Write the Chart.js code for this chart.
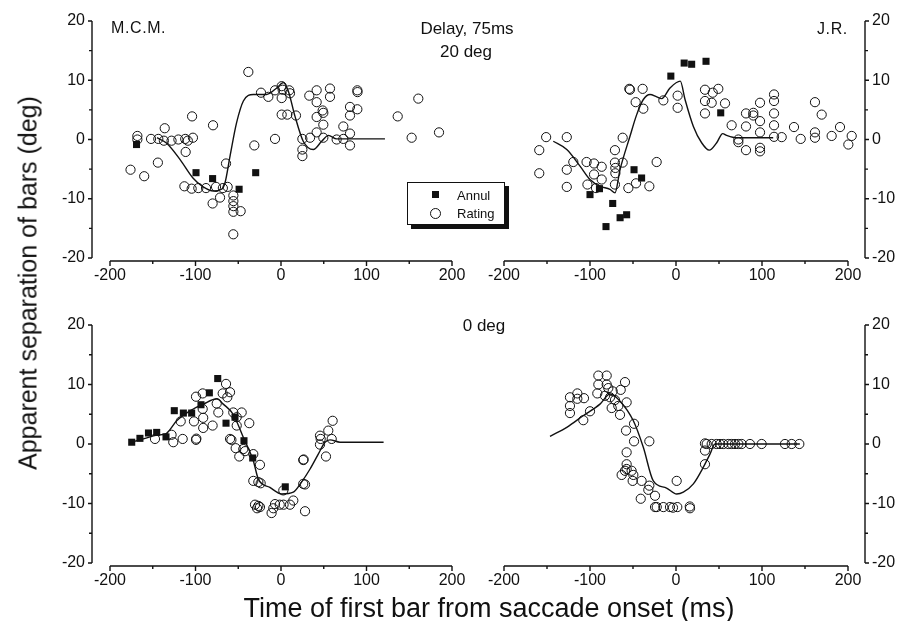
<!DOCTYPE html>
<html>
<head>
<meta charset="utf-8">
<script src="https://cdn.jsdelivr.net/npm/chart.js@4.4.1/dist/chart.umd.min.js"></script>
<style>
  body { margin: 0; background: #fff; }
  #wrap { position: relative; width: 899px; height: 621px; overflow: hidden; background: #fff;
          font-family: "Liberation Sans", Arial, Helvetica, sans-serif; color: #111; }
  #wrap canvas { position: absolute; left: 0; top: 0; }
  .txt { position: absolute; white-space: nowrap; line-height: 1; }
  .legend { position: absolute; left: 407px; top: 182px; width: 96px; height: 41px;
            border: 1px solid #111; background: #fff; box-shadow: 4px 4px 0 #111; }
  .legend .sq { position: absolute; left: 24px; top: 8px; width: 7px; height: 7px; background: #111; }
  .legend .ci { position: absolute; left: 22px; top: 25px; width: 9px; height: 9px; border: 1px solid #111; border-radius: 50%; }
  .legend .lb { position: absolute; left: 49px; font-size: 13px; }
</style>
</head>
<body>
<div id="wrap">
  <canvas id="tl" width="899" height="621"></canvas>
  <canvas id="tr" width="899" height="621"></canvas>
  <canvas id="bl" width="899" height="621"></canvas>
  <canvas id="br" width="899" height="621"></canvas>

  <div class="txt" style="left:28px;top:283px;font-size:25px;transform:translate(-50%,-50%) rotate(-90deg);">Apparent separation of bars (deg)</div>
  <div class="txt" style="left:489px;top:595px;font-size:27px;transform:translateX(-50%);">Time of first bar from saccade onset (ms)</div>
  <div class="txt" style="left:111px;top:20px;font-size:16px;letter-spacing:0.6px;">M.C.M.</div>
  <div class="txt" style="left:467px;top:20px;font-size:17px;transform:translateX(-50%);">Delay, 75ms</div>
  <div class="txt" style="left:466px;top:43px;font-size:17px;transform:translateX(-50%);">20 deg</div>
  <div class="txt" style="left:817px;top:21px;font-size:16px;letter-spacing:0.6px;">J.R.</div>
  <div class="txt" style="left:484px;top:317px;font-size:17px;transform:translateX(-50%);">0 deg</div>

  <div class="legend">
    <div class="sq"></div><div class="lb" style="top:5px;">Annul</div>
    <div class="ci"></div><div class="lb" style="top:23px;">Rating</div>
  </div>
</div>

<script>
// axis ticks
const xTicks = [-200, -150, -100, -50, 0, 50, 100, 150, 200];
const xLabels = [-200, -100, 0, 100, 200];
const yTicks = [-20, -15, -10, -5, 0, 5, 10, 15, 20];
const yLabels = [-20, -10, 0, 10, 20];

// M.C.M., delay 75ms, 20 deg  [ms, deg]
const mcm20Rating = [
  [-168,0.6],[-168,0],[-176,-5.1],[-160,-6.2],[-144,-3.9],[-152,0.1],[-143.5,0.1],[-136,1.9],[-137,-0.2],
  [-128,-0.2],[-120,0],[-112,0.1],[-109,-0.2],[-103,0.3],[-104,3.9],[-111.5,-2.1],[-79.5,2.4],
  [-113,-7.9],[-104.5,-8.3],[-96.7,-8.2],[-87.7,-8.2],[-76,-8.0],[-68,-8.2],[-62.4,-8.0],[-80,-10.8],
  [-71.3,-9.8],[-64.3,-4.05],[-55.7,-9.45],[-55.7,-10.4],[-55.7,-11.25],[-55.7,-12.2],[-47.2,-12.1],
  [-55.8,-16],[-31.2,-1],[-7,0.1],[-38.2,11.4],[-23.4,7.9],[-14.8,7.2],[-7,8.3],[0.8,9.0],[1.9,8.4],
  [0.8,7.0],[0.8,4.2],[7.4,4.2],[9.7,8.3],[10.5,7.8],[17.5,4.05],[25,0.1],[25,-1.7],[25,-2.8],[34,0.3],
  [33.1,7.4],[41.7,8.3],[41.7,6.3],[41.7,3.8],[41.7,1.2],[48.7,4.9],[49.5,4.5],[49.5,2.5],[49.5,0.3],
  [57.3,8.6],[57.3,7.2],[65.1,0],[72.9,2.2],[72.9,0.1],[80.7,5.5],[80.7,4.05],[80.7,1.0],[80.7,-1.0],
  [89.3,8.3],[89.5,8.0],[89.3,5.1],[136.5,3.9],[152.8,0.3],[160.6,6.9],[184.8,1.2]
];
const mcm20Annul = [[-169,-0.85],[-99.4,-5.6],[-80,-6.6],[-49,-8.4],[-29.6,-5.6]];
const mcm20Curve = [
  [-145,0.3],[-134,-0.6],[-118,-3.4],[-103,-6.5],[-91,-8.0],[-79,-8.7],[-69.5,-8.4],[-65.5,-7.3],
  [-59.6,-2.8],[-52,2.8],[-44,6.5],[-32.4,7.6],[-17,7.6],[-5,8.7],[2.7,9.6],[8.5,8.2],[16.4,3.9],
  [26,-0.3],[37.8,-1.7],[47.6,-0.3],[55.4,0.7],[65,0.1],[121.6,0.1]
];

// J.R., delay 75ms, 20 deg
const jr20Rating = [
  [-151,0.4],[-127,0.4],[-159,-1.8],[-159,-5.7],[-127,-5.1],[-127,-8.0],[-119.4,-3.8],[-104,-3.8],
  [-95.3,-4.05],[-86.4,-4.6],[-95.3,-5.9],[-103,-7.6],[-86.4,-6.75],[-93,-8.2],[-71,-1.8],[-71,-3.9],
  [-70.5,-4.8],[-70.5,-5.7],[-62,-3.9],[-62,0.3],[-71,-7.6],[-55.4,-8.2],[-46.5,-7.4],[-31,-7.9],
  [-22.5,-3.8],[-54.3,8.55],[-53.5,8.4],[-38.8,8.55],[-46.9,6.3],[-38,5.2],[-14.7,6.6],[1.9,7.4],
  [1.9,5.35],[33.7,8.4],[42.7,7.9],[49.2,8.55],[33.7,6.5],[41.5,6.2],[33.7,4.4],[57,6.1],[64.7,2.4],
  [72.5,0],[72.5,-0.45],[81.4,4.4],[81.4,2.2],[81.4,-1.8],[89.9,4.5],[89.9,4.05],[97.7,6.2],[97.7,3.1],
  [97.7,1.2],[97.7,-1.4],[97.7,-2.0],[114,7.6],[114,6.5],[114,4.4],[114,2.4],[114,0.45],[122.9,0.4],
  [137.2,2.1],[145,0.1],[161.6,6.3],[169.4,4.2],[161.6,1.2],[161.6,0.3],[181,0.6],[190.7,2.1],
  [204.3,0.6],[200.4,-0.85]
];
const jr20Annul = [
  [-100,-9.3],[-89,-8.3],[-73.6,-10.8],[-81.4,-14.7],[-65,-13.2],[-57.4,-12.7],[-48.8,-5.1],[-40,-6.5],
  [-6,10.7],[9.5,12.9],[18.2,12.7],[34.9,13.2],[52,4.5]
];
const jr20Curve = [
  [-142.7,-0.3],[-127,-1.7],[-111.6,-4.5],[-100,-6.75],[-88.4,-7.9],[-76.7,-8.4],[-70.9,-9],[-65.1,-5.1],
  [-53.5,0.55],[-45.7,4.2],[-38,6.75],[-30.2,7.6],[-22.4,7.2],[-16.6,6.9],[-7,8.7],[5,9.85],[10.5,6.75],
  [20.2,2.2],[29.8,-0.55],[38.7,-1.8],[47.3,-0.55],[54.3,1.0],[58.9,0.7],[70.5,0.3],[113,0.3]
];

// M.C.M., 0 deg
const mcm0Rating = [
  [-147.4,0.85],[-128,1.55],[-126,0.3],[-115,0.85],[-117.3,3.8],[-99.4,0.7],[-99,0.9],[-101.8,3.8],
  [-91,4.4],[-91,2.7],[-99.4,7.95],[-91.6,8.5],[-91.6,5.9],[-80,3.1],[-75.2,6.8],[-73.3,5.3],[-68.2,8.5],
  [-64.3,10.1],[-59.6,8.7],[-62.8,7.85],[-55.8,5.3],[-46,5.3],[-51.8,4.5],[-51.8,3.1],[-37.1,3.5],
  [-59.6,0.85],[-58,0.7],[-53,-0.7],[-48.8,-2.1],[-44.1,-0.85],[-42,-1.2],[-32.4,-1.7],[-24.6,-3.5],
  [-32.4,-6.2],[-26.5,-6.4],[-23.8,-6.6],[-30.4,-10.2],[-26.5,-10.4],[-24.6,-10.6],[-28,-10.8],
  [-11,-11.6],[-9,-10.8],[-7,-10.1],[-1.5,-10.2],[3,-10.2],[10.5,-10.2],[14.4,-9.5],[2.7,-7.8],
  [28.1,-11.3],[26,-6.7],[28.1,-6.8],[26,-2.7],[26.5,-2.6],[52.6,-2.1],[45.6,-0.1],[46.4,0.85],
  [45.6,1.4],[55.3,2.25],[60.4,3.9],[59.3,0.85]
];
const mcm0Annul = [
  [-174.6,0.3],[-165,0.95],[-155,1.85],[-145.4,1.95],[-134.5,1.2],[-124.8,5.6],[-114.2,5.2],[-104.5,5.2],
  [-93.6,6.6],[-83.8,8.6],[-74,11.0],[-64.3,3.5],[-53.8,4.5],[-43.3,0.55],[-33.1,-2.35],[5,-7.2]
];
const mcm0Curve = [
  [-175,0.3],[-160,0.9],[-145,1.5],[-135,1.7],[-122,3.9],[-106,5.6],[-91,6.7],[-75,7.6],[-67.5,6.7],
  [-56,5.0],[-44,1.1],[-32.4,-2.8],[-26.5,-5.9],[-13,-7.3],[1,-8.4],[14.4,-8.1],[24,-6.4],[34,-4.2],
  [43.6,-1.7],[51.5,0.3],[57.3,0.7],[69,0.3],[120,0.3]
];

// J.R., 0 deg
const jr0Rating = [
  [-123.3,7.85],[-114.7,8.5],[-114.7,7.6],[-107,7.7],[-123.3,6.4],[-123.3,5.2],[-107.8,4.0],[-100,5.5],
  [-90.3,11.5],[-80.6,11.5],[-90.3,10.0],[-80.6,10.0],[-91.5,8.5],[-78.7,9.4],[-82.6,8.1],[-76.7,7.85],
  [-73.6,8.85],[-70.9,7.4],[-74.8,6.05],[-67.1,6.4],[-65.1,4.9],[-59.3,10.4],[-64.3,9.1],[-57.4,7.0],
  [-58.1,2.25],[-48.8,3.4],[-48.8,0.45],[-31,0.45],[-57.4,-1.4],[-57.4,-3.4],[-57.4,-4.2],[-63.2,-5.2],
  [-51.6,-4.5],[-49.6,-5.2],[-59.3,-4.5],[-50.4,-6.2],[-40,-6.2],[-31,-7.0],[-32.2,-7.7],[-24.4,-8.7],
  [-41,-9.2],[-24.4,-10.6],[-22.4,-10.6],[-14.7,-10.6],[-7,-10.6],[-3.5,-10.7],[1.5,-10.6],[0.8,-6.2],
  [16,-10.5],[16.3,-10.8],[33.7,-1.1],[33.7,-3.4],[33.7,0.1],[35.7,0],[41.5,0],[47.3,0],[51.2,0],[55,0],
  [60.8,0],[64.7,0],[68.6,0],[72.5,0],[76.4,0],[86,0],[99.6,0],[126.7,0],[134.5,0],[143.4,0]
];
const jr0Annul = [];
const jr0Curve = [
  [-146.5,1.3],[-127,2.8],[-108,4.75],[-88.4,6.7],[-76.7,8.4],[-65,7.2],[-49.6,3.9],[-38,-0.55],
  [-26.4,-6.2],[-11,-7.4],[0.8,-8.4],[8.5,-8.1],[20.2,-6.7],[31.8,-3.9],[39.5,-1.7],[45.3,0],[144,0]
];

const INK = '#111';
const FONT = '16px "Liberation Sans", Arial, Helvetica, sans-serif';

// axes drawn in the old journal style: y axis set off to the side, x axis just below
const paperAxes = {
  id: 'paperAxes',
  afterDraw(chart, args, opts) {
    const { ctx, chartArea: a, scales: { x, y } } = chart;
    ctx.save();
    ctx.strokeStyle = INK;
    ctx.fillStyle = INK;
    ctx.lineWidth = 1.4;
    ctx.font = FONT;

    // x axis
    const xb = a.bottom + 3;
    ctx.beginPath();
    ctx.moveTo(x.getPixelForValue(xTicks[0]), xb);
    ctx.lineTo(x.getPixelForValue(xTicks[xTicks.length - 1]), xb);
    xTicks.forEach(v => {
      const px = x.getPixelForValue(v);
      ctx.moveTo(px, xb);
      ctx.lineTo(px, xb + (xLabels.includes(v) ? 5 : 3));
    });
    ctx.stroke();
    ctx.textAlign = 'center';
    ctx.textBaseline = 'top';
    xLabels.forEach(v => ctx.fillText(String(v), x.getPixelForValue(v), xb + 7));

    // y axis
    const right = opts.side === 'right';
    const yx = right ? a.right + 17 : a.left - 18;
    const dir = right ? 1 : -1;
    ctx.beginPath();
    ctx.moveTo(yx, y.getPixelForValue(yTicks[0]));
    ctx.lineTo(yx, y.getPixelForValue(yTicks[yTicks.length - 1]));
    yTicks.forEach(v => {
      const py = y.getPixelForValue(v);
      ctx.moveTo(yx, py);
      ctx.lineTo(yx + dir * (yLabels.includes(v) ? 4 : 3), py);
    });
    ctx.stroke();
    ctx.textAlign = right ? 'left' : 'right';
    ctx.textBaseline = 'middle';
    yLabels.forEach(v => ctx.fillText(String(v), yx + dir * 7, y.getPixelForValue(v)));
    ctx.restore();
  }
};

const toPts = arr => arr.map(p => ({ x: p[0], y: p[1] }));

function makePanel(id, pad, side, rating, annul, curve) {
  new Chart(document.getElementById(id), {
    type: 'scatter',
    data: {
      datasets: [
        {
          label: 'Annul', data: toPts(annul), pointStyle: 'rect', pointRadius: 5,
          backgroundColor: INK, borderColor: INK, borderWidth: 0, clip: false
        },
        {
          label: 'Rating', data: toPts(rating), pointStyle: 'circle', pointRadius: 4.6,
          backgroundColor: 'rgba(0,0,0,0)', borderColor: INK, borderWidth: 1, clip: false
        },
        {
          label: 'fit', data: toPts(curve), showLine: true, pointRadius: 0, borderColor: INK,
          borderWidth: 1.4, cubicInterpolationMode: 'monotone', fill: false, clip: false
        }
      ]
    },
    options: {
      responsive: false,
      animation: false,
      events: [],
      layout: { padding: pad },
      scales: {
        x: { type: 'linear', min: -200, max: 200, display: false },
        y: { type: 'linear', min: -20, max: 20, display: false }
      },
      plugins: {
        legend: { display: false },
        tooltip: { enabled: false },
        paperAxes: { side: side }
      }
    },
    plugins: [paperAxes]
  });
}

makePanel('tl', { left: 110, right: 447, top: 21, bottom: 363 }, 'left', mcm20Rating, mcm20Annul, mcm20Curve);
makePanel('tr', { left: 504, right: 51, top: 21, bottom: 363 }, 'right', jr20Rating, jr20Annul, jr20Curve);
makePanel('bl', { left: 110, right: 447, top: 325, bottom: 58 }, 'left', mcm0Rating, mcm0Annul, mcm0Curve);
makePanel('br', { left: 504, right: 51, top: 325, bottom: 58 }, 'right', jr0Rating, jr0Annul, jr0Curve);
</script>
</body>
</html>
